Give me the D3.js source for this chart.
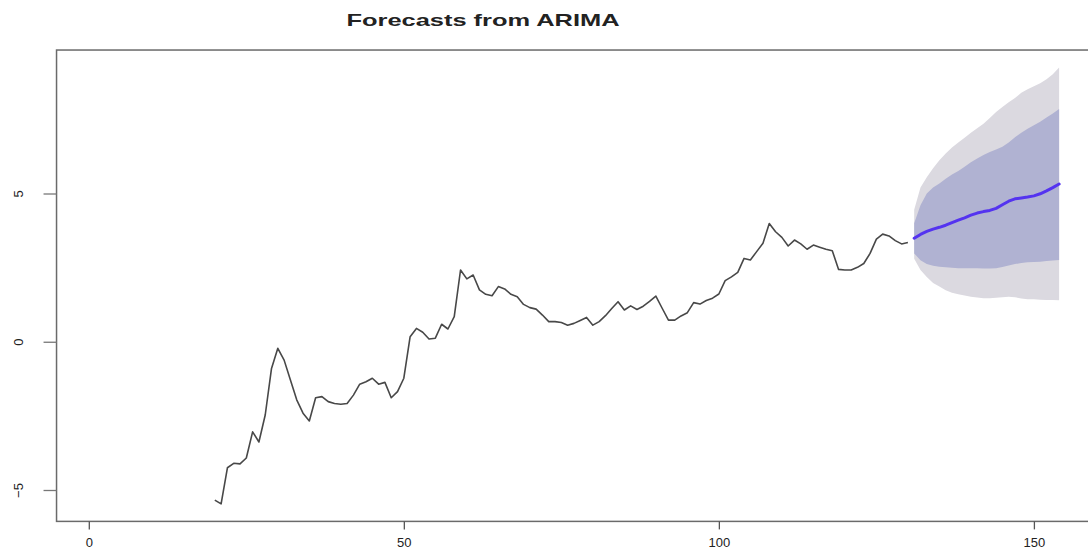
<!DOCTYPE html>
<html>
<head>
<meta charset="utf-8">
<script src="https://cdn.jsdelivr.net/npm/d3@7"></script>
<style>
  html, body { margin: 0; padding: 0; background: #fff; }
  svg { display: block; }
  text { font-family: "Liberation Sans", Arial, Helvetica, sans-serif; fill: #222; }
</style>
</head>
<body>
<svg id="chart" width="1088" height="551"></svg>
<script>
// Observed series, one value per time step starting at t = 20
const obsStart = 20;
const observed = [
  -5.34, -5.47, -4.25, -4.10, -4.12, -3.92, -3.04, -3.38, -2.47, -0.90,
  -0.22, -0.62, -1.29, -1.96, -2.41, -2.67, -1.89, -1.85, -2.02, -2.08,
  -2.11, -2.08, -1.80, -1.43, -1.35, -1.23, -1.43, -1.37, -1.89, -1.68,
  -1.23, 0.17, 0.45, 0.32, 0.09, 0.12, 0.59, 0.43, 0.85, 2.42,
  2.12, 2.25, 1.75, 1.60, 1.55, 1.86, 1.78, 1.60, 1.52, 1.26,
  1.15, 1.10, 0.90, 0.68, 0.68, 0.65, 0.56, 0.62, 0.72, 0.82,
  0.56, 0.68, 0.88, 1.12, 1.35, 1.07, 1.21, 1.09, 1.20, 1.36,
  1.54, 1.13, 0.73, 0.73, 0.87, 0.98, 1.32, 1.27, 1.39, 1.47,
  1.61, 2.06, 2.19, 2.34, 2.81, 2.76, 3.04, 3.32, 3.99, 3.71,
  3.52, 3.23, 3.43, 3.30, 3.12, 3.26, 3.19, 3.12, 3.07, 2.44,
  2.42, 2.42, 2.51, 2.64, 2.98, 3.46, 3.63, 3.57, 3.41, 3.30,
  3.35
];

// Forecast horizon, t = 131 .. 154
const fcStart = 131;
const fcMean = [
  3.49, 3.62, 3.72, 3.80, 3.86, 3.93, 4.02, 4.10, 4.18, 4.27,
  4.34, 4.39, 4.43, 4.50, 4.62, 4.74, 4.82, 4.85, 4.88, 4.92,
  4.99, 5.09, 5.20, 5.32
];
const lo80 = [
  2.98, 2.75, 2.62, 2.56, 2.53, 2.51, 2.50, 2.48, 2.48, 2.48,
  2.48, 2.47, 2.47, 2.48, 2.52, 2.57, 2.62, 2.66, 2.68, 2.69,
  2.70, 2.72, 2.74, 2.76
];
const hi80 = [
  4.00, 4.60, 5.00, 5.20, 5.34, 5.50, 5.64, 5.76, 5.90, 6.05,
  6.18, 6.30, 6.40, 6.48, 6.58, 6.72, 6.90, 7.05, 7.18, 7.30,
  7.42, 7.56, 7.70, 7.85
];
const lo95 = [
  2.80, 2.42, 2.18, 1.98, 1.86, 1.74, 1.65, 1.60, 1.56, 1.52,
  1.49, 1.47, 1.47, 1.48, 1.50, 1.52, 1.50, 1.46, 1.43, 1.43,
  1.42, 1.41, 1.41, 1.40
];
const hi95 = [
  4.45, 5.20, 5.55, 5.85, 6.12, 6.35, 6.55, 6.72, 6.88, 7.05,
  7.20, 7.35, 7.55, 7.75, 7.92, 8.08, 8.22, 8.40, 8.52, 8.62,
  8.72, 8.85, 9.02, 9.25
];

const xTicks = [0, 50, 100, 150];
const yTicks = [-5, 0, 5];
const title = "Forecasts from ARIMA";

const svg = d3.select("#chart");

// Scales: tick positions fixed in pixel space
const x = d3.scaleLinear().domain([0, 150]).range([88.8, 1033.9]);
const y = d3.scaleLinear().domain([-5, 5]).range([490, 193.5]);

// Plot region: data range padded by 4% on each side
const xMin = 1, xMax = fcStart + fcMean.length - 1;
const xPad = (xMax - xMin) * 0.04;
const allY = observed.concat(lo95, hi95);
const yLo = d3.min(allY), yHi = d3.max(allY);
const yPad = (yHi - yLo) * 0.04;
const box = {
  left: x(xMin - xPad), right: x(xMax + xPad),
  top: y(yHi + yPad), bottom: y(yLo - yPad)
};

const obsData = observed.map((v, i) => ({ t: obsStart + i, v }));
const fcData = fcMean.map((v, i) => ({
  t: fcStart + i, v, lo80: lo80[i], hi80: hi80[i], lo95: lo95[i], hi95: hi95[i]
}));

// Prediction intervals
const area95 = d3.area().x(d => x(d.t)).y0(d => y(d.lo95)).y1(d => y(d.hi95));
const area80 = d3.area().x(d => x(d.t)).y0(d => y(d.lo80)).y1(d => y(d.hi80));
svg.append("path").datum(fcData).attr("d", area95).attr("fill", "#dbd9e0");
svg.append("path").datum(fcData).attr("d", area80).attr("fill", "#b0b2d2");

// Observed series
const line = d3.line().x(d => x(d.t)).y(d => y(d.v));
svg.append("path").datum(obsData).attr("d", line)
  .attr("fill", "none").attr("stroke", "#484848").attr("stroke-width", 1.6)
  .attr("stroke-linejoin", "round");

// Point forecasts
svg.append("path").datum(fcData).attr("d", line)
  .attr("fill", "none").attr("stroke", "#5433f0").attr("stroke-width", 3)
  .attr("stroke-linejoin", "round").attr("stroke-linecap", "round");

// Frame
svg.append("rect")
  .attr("x", box.left).attr("y", box.top)
  .attr("width", box.right - box.left).attr("height", box.bottom - box.top)
  .attr("fill", "none").attr("stroke", "#6a6a6a").attr("stroke-width", 1.5);

// X axis
const xAxis = d3.axisBottom(x).tickValues(xTicks).tickSize(8).tickPadding(8).tickSizeOuter(0);
const gx = svg.append("g").attr("transform", `translate(0,${box.bottom})`).call(xAxis);
gx.select(".domain").remove();
gx.selectAll(".tick line").attr("stroke", "#555").attr("stroke-width", 1.3);
gx.selectAll(".tick text").style("font-size", "13px").attr("fill", "#222");

// Y axis with rotated labels
const yAxis = d3.axisLeft(y).tickValues(yTicks).tickSize(13).tickFormat(d3.format("d")).tickSizeOuter(0);
const gy = svg.append("g").attr("transform", `translate(${box.left},0)`).call(yAxis);
gy.select(".domain").remove();
gy.selectAll(".tick line").attr("stroke", "#777").attr("stroke-width", 1.3);
gy.selectAll(".tick text")
  .style("font-size", "13px").attr("fill", "#222")
  .attr("x", null).attr("dy", null)
  .attr("text-anchor", "middle")
  .attr("transform", `translate(${23 - box.left},0) rotate(-90)`);

// Title
svg.append("text")
  .attr("x", 483).attr("y", 26)
  .attr("text-anchor", "middle")
  .attr("textLength", 273).attr("lengthAdjust", "spacingAndGlyphs")
  .style("font-size", "17px").style("font-weight", "bold")
  .attr("fill", "#111")
  .text(title);
</script>
</body>
</html>
